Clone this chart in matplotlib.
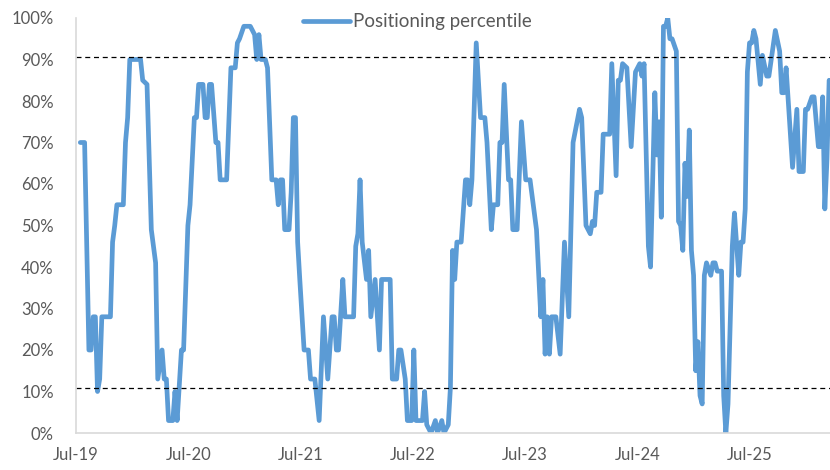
import numpy as np
import pandas as pd
import matplotlib
matplotlib.use('Agg')
import matplotlib.pyplot as plt
import matplotlib.dates as mdates
from matplotlib.ticker import MultipleLocator, FuncFormatter

plt.rcParams['font.family'] = ['Lato', 'DejaVu Sans']

# weeks since 1 Jul 2019 at each turning point of the line, and the percentile there
weeks = [2, 4, 6, 7, 8, 9, 10, 11, 12, 16,
         17, 18, 19, 22, 23, 24, 25, 30, 31, 33,
         35, 37, 38, 40, 41, 42, 43, 45, 46, 47,
         49, 50, 52, 53, 55, 56, 57, 59, 60, 61,
         62, 63, 65, 66, 67, 70, 72, 74, 75, 76,
         78, 81, 83, 84, 85, 86, 88, 89, 91, 93,
         94, 95, 96, 97, 99, 100, 101, 102, 103, 104,
         106, 108, 109, 111, 113, 115, 117, 119, 120, 121,
         122, 124, 125, 129, 130, 131, 132, 133, 135, 136,
         137, 139, 141, 142, 146, 147, 149, 150, 151, 153,
         154, 156, 157, 158, 161, 162, 163, 165, 167, 168,
         170, 171, 173, 174, 175, 176, 177, 179, 181, 182,
         183, 184, 186, 188, 190, 191, 193, 194, 196, 197,
         198, 199, 201, 202, 203, 205, 207, 209, 211, 214,
         216, 217, 218, 219, 220, 221, 223, 225, 227, 229,
         231, 234, 235, 237, 239, 240, 241, 242, 244, 245,
         248, 249, 251, 252, 253, 254, 256, 258, 260, 262,
         263, 264, 266, 267, 269, 270, 271, 272, 273, 274,
         275, 276, 277, 279, 280, 281, 282, 283, 284, 285,
         286, 287, 288, 289, 290, 291, 292, 293, 295, 296,
         297, 298, 300, 301, 302, 303, 305, 306, 308, 309,
         310, 311, 312, 313, 314, 315, 316, 318, 319, 321,
         322, 325, 327, 328, 329, 330, 333, 335, 336, 338,
         339, 340, 342, 343, 345, 346, 347, 348, 349, 350]

pct = [70, 70, 20, 20, 28, 28, 10, 13, 28, 28,
       46, 50, 55, 55, 70, 76, 90, 90, 85, 84,
       49, 41, 13, 20, 13, 13, 3, 3, 10, 3,
       20, 20, 50, 55, 76, 76, 84, 84, 76, 76,
       84, 84, 70, 70, 61, 61, 88, 88, 94, 95,
       98, 98, 96, 90, 96, 90, 90, 88, 61, 61,
       55, 61, 61, 49, 49, 58, 76, 76, 46, 37,
       20, 20, 13, 13, 3, 28, 13, 28, 28, 20,
       20, 37, 28, 28, 45, 48, 61, 46, 37, 44,
       28, 37, 20, 37, 37, 13, 13, 20, 20, 13,
       3, 3, 20, 3, 3, 10, 2, 0, 3, 0,
       3, 0, 2, 11, 44, 37, 46, 46, 61, 61,
       55, 61, 94, 76, 76, 70, 49, 55, 55, 70,
       70, 84, 61, 61, 49, 49, 75, 61, 61, 49,
       28, 37, 19, 28, 19, 28, 28, 19, 46, 28,
       70, 78, 76, 50, 48, 51, 50, 58, 58, 72,
       72, 89, 62, 85, 85, 89, 88, 69, 87, 89,
       86, 89, 45, 40, 82, 67, 75, 52, 98, 98,
       100, 95, 95, 92, 51, 50, 44, 65, 57, 73,
       44, 38, 15, 22, 9, 7, 38, 41, 38, 41,
       41, 39, 39, 9, 0, 7, 45, 53, 38, 46,
       46, 54, 87, 94, 94, 97, 95, 84, 91, 86,
       86, 97, 92, 82, 82, 88, 64, 78, 63, 63,
       78, 78, 81, 81, 69, 69, 81, 54, 66, 85]

upper_band = 90.6
lower_band = 10.8

start = pd.Timestamp('2019-07-01')
dates = start + pd.to_timedelta(np.array(weeks) * 7, unit='D')

fig = plt.figure(figsize=(8.3, 4.7), dpi=100)
ax = fig.add_axes([76 / 830, 1 - 433 / 470, 1 - 76 / 830, (433 - 18) / 470])

ax.plot(dates, pct, color='#5B9BD5', lw=3.4, solid_joinstyle='round',
        solid_capstyle='round', label='Positioning percentile')
ax.axhline(upper_band, color='black', lw=0.9, ls=(0, (4, 3)))
ax.axhline(lower_band, color='black', lw=0.9, ls=(0, (4, 3)))

ax.set_ylim(0, 100)
ax.set_xlim(start, start + pd.Timedelta(weeks=350.4))
ax.xaxis.set_major_locator(mdates.MonthLocator(bymonth=7))
ax.xaxis.set_major_formatter(mdates.DateFormatter('%b-%y'))
ax.yaxis.set_major_locator(MultipleLocator(10))
ax.yaxis.set_major_formatter(FuncFormatter(lambda v, p: f'{v:.0f}%'))

for s in ['top', 'right']:
    ax.spines[s].set_visible(False)
for s in ['left', 'bottom']:
    ax.spines[s].set_color('#d9d9d9')
    ax.spines[s].set_linewidth(1.2)

ax.tick_params(axis='both', length=0, labelsize=12, labelcolor='#595959')
ax.tick_params(axis='y', pad=16)
ax.tick_params(axis='x', pad=10)

fig.legend(loc='center', bbox_to_anchor=(0.503, 1 - 22 / 470), frameon=False,
           fontsize=13.5, labelcolor='#595959', handlelength=2.5, handletextpad=0.2)

fig.savefig('out.png', dpi=100)
